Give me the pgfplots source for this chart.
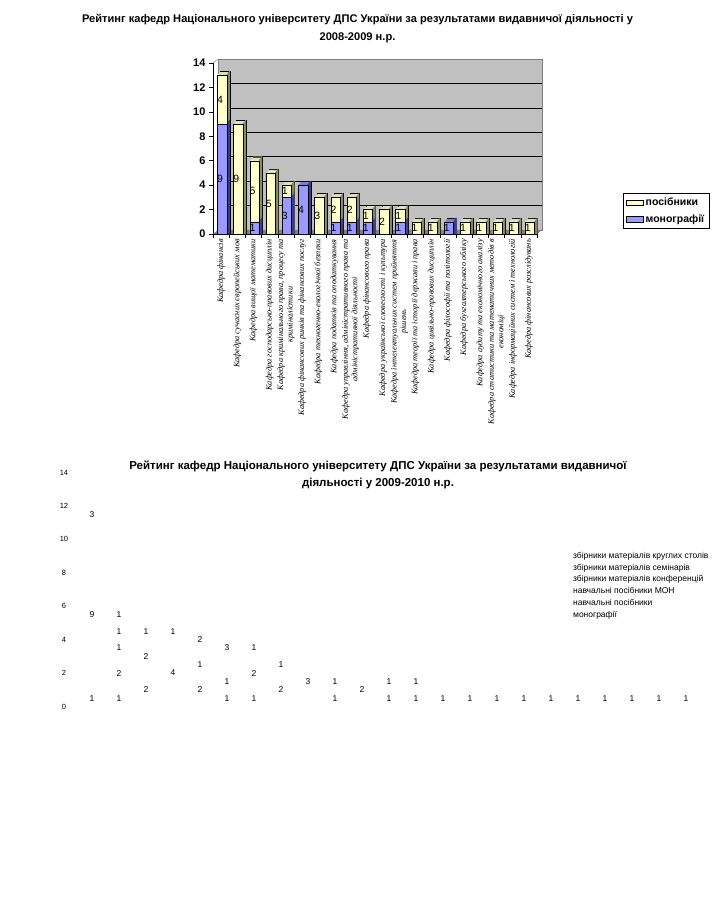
\documentclass[border=0pt]{standalone}
\usepackage{pgfplots}
\pgfplotsset{compat=1.18}
\usepackage{pgfplotstable}
\usepackage{fontspec}
\setmainfont{Liberation Sans}
\newfontfamily\serifit{Liberation Serif}
\definecolor{wallc}{HTML}{C0C0C0}
\definecolor{floorc}{HTML}{808080}
\definecolor{posf}{HTML}{FFFFCC}
\definecolor{post}{HTML}{E0E0BA}
\definecolor{poss}{HTML}{858569}
\definecolor{monf}{HTML}{9999FF}
\definecolor{mont}{HTML}{7C7CD6}
\definecolor{mons}{HTML}{3C3C8C}

\pgfplotstableread{
cat mono pos
1 9 4
2 0 9
3 1 5
4 0 5
5 3 1
6 4 0
7 0 3
8 1 2
9 1 2
10 1 1
11 0 2
12 1 1
13 0 1
14 0 1
15 1 0
16 0 1
17 0 1
18 0 1
19 0 1
20 0 1
}\topdata

\pgfplotstableread{
cat a b c d e f
1 1 9 3 0 0 0
2 1 2 1 1 1 0
3 2 2 1 0 0 0
4 4 1 0 0 0 0
5 2 1 2 0 0 0
6 1 1 3 0 0 0
7 1 2 1 0 0 0
8 2 1 0 0 0 0
9 3 0 0 0 0 0
10 1 1 0 0 0 0
11 2 0 0 0 0 0
12 1 1 0 0 0 0
13 1 1 0 0 0 0
14 1 0 0 0 0 0
15 1 0 0 0 0 0
16 1 0 0 0 0 0
17 1 0 0 0 0 0
18 1 0 0 0 0 0
19 1 0 0 0 0 0
20 1 0 0 0 0 0
21 1 0 0 0 0 0
22 1 0 0 0 0 0
23 1 0 0 0 0 0
}\botdata

\pgfplotsset{
  nzlabel/.style={nodes near coords={\pgfmathfloatifflags{\pgfplotspointmeta}{0}{}{\pgfmathprintnumber{\pgfplotspointmeta}}}},
  % top face of a column: full-width copy pushed back by t*(3pt, 4pt)
  tops/.style 2 args={forget plot, fill=#1, draw=none, bar width=9.4pt, bar shift=#2},
  % right side face: narrow copy at the column's right edge
  sides/.style 2 args={forget plot, fill=#1, draw=none, bar width=1pt, bar shift=#2},
}

\begin{document}
\begin{tikzpicture}
\useasboundingbox (0,0) rectangle (727pt,906pt);

% ---------- top chart title
\node[font=\bfseries\fontsize{11.1}{18}\selectfont, align=center] at (357.5pt,877pt)
  {Рейтинг кафедр Національного університету ДПС України за результатами видавничої діяльності у\\2008-2009 н.р.};

\begin{axis}[
  at={(213pt,672pt)}, anchor=south west,
  scale only axis, width=324pt, height=171pt,
  xmin=0.5, xmax=20.5, ymin=0, ymax=14,
  ytick={0,2,...,14},
  xtick={1,...,20},
  xticklabels={
    Кафедра фінансів,
    Кафедра сучасних європейських мов,
    Кафедра вищої математики,
    Кафедра господарсько-правових дисциплін,
    {Кафедра кримінального права, процесу та\\криміналістики},
    Кафедра фінансових ринків та фінансових послуг,
    Кафедра техногенно-екологічної безпеки,
    Кафедра податків та оподаткування,
    {Кафедра управління, адміністративного права та\\адміністративної діяльності},
    Кафедра фінансового права,
    Кафедра української словесності і культури,
    {Кафедра інтелектуальних систем прийняття\\рішень},
    Кафедра теорії та історії держави і права,
    Кафедра цивільно-правових дисциплін,
    Кафедра філософії та політології,
    Кафедра бухгалтерського обліку,
    Кафедра аудиту та економічного аналізу,
    {Кафедра статистики та математичних методів в\\економіці},
    Кафедра інформаційних систем і технологій,
    Кафедра фінансових розслідувань},
  minor xtick={0.5,1.5,...,20.5},
  major tick length=4pt, minor tick length=4pt,
  tick align=outside,
  major x tick style={draw=none},
  tick style={black, line width=0.6pt},
  x tick label style={font=\serifit\itshape\fontsize{8.3}{9.5}\selectfont, rotate=90, anchor=east, align=center, inner sep=1pt},
  y tick label style={font=\bfseries\fontsize{11}{12}\selectfont},
  /pgf/number format/assume math mode=true,
  axis x line*=bottom, axis y line*=left,
  axis line style={line width=0.6pt},
  clip=false,
  ybar, bar width=9.4pt,
  legend style={at={(1.2645,0.24)}, anchor=north west, draw=black, line width=0.6pt,
    font=\bfseries\fontsize{10.5}{12}\selectfont, row sep=3pt, inner sep=3pt},
  legend cell align=left,
]
\fill[wallc, draw=floorc] ([shift={(5pt,4pt)}]rel axis cs:0,0) rectangle ([shift={(5pt,4pt)}]rel axis cs:1,1);
\draw[black, line width=0.7pt] ([shift={(5pt,4pt)}]axis cs:0.5,2) -- ([shift={(5pt,4pt)}]axis cs:20.5,2);
\draw[black, line width=0.7pt] ([shift={(5pt,4pt)}]axis cs:0.5,4) -- ([shift={(5pt,4pt)}]axis cs:20.5,4);
\draw[black, line width=0.7pt] ([shift={(5pt,4pt)}]axis cs:0.5,6) -- ([shift={(5pt,4pt)}]axis cs:20.5,6);
\draw[black, line width=0.7pt] ([shift={(5pt,4pt)}]axis cs:0.5,8) -- ([shift={(5pt,4pt)}]axis cs:20.5,8);
\draw[black, line width=0.7pt] ([shift={(5pt,4pt)}]axis cs:0.5,10) -- ([shift={(5pt,4pt)}]axis cs:20.5,10);
\draw[black, line width=0.7pt] ([shift={(5pt,4pt)}]axis cs:0.5,12) -- ([shift={(5pt,4pt)}]axis cs:20.5,12);
\fill[floorc] (rel axis cs:0,0) -- (rel axis cs:1,0) -- ([shift={(5pt,4pt)}]rel axis cs:1,0) -- ([shift={(5pt,4pt)}]rel axis cs:0,0) -- cycle;
\draw[floorc] (rel axis cs:0,1) -- ([shift={(5pt,4pt)}]rel axis cs:0,1);

% top faces of the columns
\addplot[tops={post}{4pt}, draw=black, line width=0.3pt] table[x=cat, y expr=\thisrow{mono}+\thisrow{pos}+0.328]{\topdata};
\addplot[tops={post}{3.25pt}] table[x=cat, y expr=\thisrow{mono}+\thisrow{pos}+0.246]{\topdata};
\addplot[tops={post}{2.5pt}]  table[x=cat, y expr=\thisrow{mono}+\thisrow{pos}+0.164]{\topdata};
\addplot[tops={post}{1.75pt}] table[x=cat, y expr=\thisrow{mono}+\thisrow{pos}+0.082]{\topdata};
% top faces of columns made of monographs only
\addplot[tops={mont}{4pt}, draw=black, line width=0.3pt, restrict y to domain=0:20] table[x=cat, y expr={\thisrow{pos}==0 ? \thisrow{mono}+0.328 : -1}]{\topdata};
\addplot[tops={mont}{3.25pt}, restrict y to domain=0:20] table[x=cat, y expr={\thisrow{pos}==0 ? \thisrow{mono}+0.246 : -1}]{\topdata};
\addplot[tops={mont}{2.5pt},  restrict y to domain=0:20] table[x=cat, y expr={\thisrow{pos}==0 ? \thisrow{mono}+0.164 : -1}]{\topdata};
\addplot[tops={mont}{1.75pt}, restrict y to domain=0:20] table[x=cat, y expr={\thisrow{pos}==0 ? \thisrow{mono}+0.082 : -1}]{\topdata};
% right side faces, posibnyky part
\addplot[sides={poss}{8.2pt}]  table[x=cat, y expr=\thisrow{mono}+\thisrow{pos}+0.328]{\topdata};
\addplot[sides={poss}{7.45pt}] table[x=cat, y expr=\thisrow{mono}+\thisrow{pos}+0.246]{\topdata};
\addplot[sides={poss}{6.7pt}]  table[x=cat, y expr=\thisrow{mono}+\thisrow{pos}+0.164]{\topdata};
\addplot[sides={poss}{5.95pt}] table[x=cat, y expr=\thisrow{mono}+\thisrow{pos}+0.082]{\topdata};
% right side faces, monograph part
\addplot[sides={mons}{8.2pt},  restrict y to domain=0:20] table[x=cat, y expr={\thisrow{mono}==0 ? -1 : \thisrow{mono}+0.328}]{\topdata};
\addplot[sides={mons}{7.45pt}, restrict y to domain=0:20] table[x=cat, y expr={\thisrow{mono}==0 ? -1 : \thisrow{mono}+0.246}]{\topdata};
\addplot[sides={mons}{6.7pt},  restrict y to domain=0:20] table[x=cat, y expr={\thisrow{mono}==0 ? -1 : \thisrow{mono}+0.164}]{\topdata};
\addplot[sides={mons}{5.95pt}, restrict y to domain=0:20] table[x=cat, y expr={\thisrow{mono}==0 ? -1 : \thisrow{mono}+0.082}]{\topdata};
% front faces
\addplot[forget plot, fill=posf, draw=black, line width=0.4pt, bar shift=1pt] table[x=cat, y expr=\thisrow{mono}+\thisrow{pos}]{\topdata};
\addplot[forget plot, fill=monf, draw=black, line width=0.4pt, bar shift=1pt, restrict y to domain=0.5:20] table[x=cat, y=mono]{\topdata};
% value labels
\addplot[forget plot, draw=none, fill=none, bar shift=-1pt, point meta=\thisrow{mono}, nzlabel,
  every node near coord/.append style={anchor=center, font=\fontsize{10.5}{11}\selectfont}]
  table[x=cat, y expr=\thisrow{mono}/2]{\topdata};
\addplot[forget plot, draw=none, fill=none, bar shift=-1pt, point meta=\thisrow{pos}, nzlabel,
  every node near coord/.append style={anchor=center, font=\fontsize{10.5}{11}\selectfont}]
  table[x=cat, y expr=\thisrow{mono}+\thisrow{pos}/2]{\topdata};

\addlegendimage{area legend, fill=posf, draw=black}
\addlegendentry{посібники}
\addlegendimage{area legend, fill=monf, draw=black}
\addlegendentry{монографії}
\end{axis}

% ---------- bottom chart title
\node[font=\bfseries\fontsize{11.5}{17}\selectfont, align=center] at (378pt,431.5pt)
  {Рейтинг кафедр Національного університету ДПС України за результатами видавничої\\діяльності у 2009-2010 н.р.};

\begin{axis}[
  at={(78.5pt,199.5pt)}, anchor=south west,
  scale only axis, width=621pt, height=234pt,
  xmin=0.5, xmax=23.5, ymin=0, ymax=14,
  ytick={0,2,...,14}, xtick=\empty,
  axis line style={draw=none}, tick style={draw=none}, major tick length=0pt,
  y tick label style={font=\fontsize{7.5}{8}\selectfont, anchor=center, xshift=-14.5pt},
  /pgf/number format/assume math mode=true,
  ybar, bar width=10pt, bar shift=0pt,
  clip=false,
  seg/.style={forget plot, draw=none, fill=none, nzlabel,
    point meta=\thisrow{#1},
    every node near coord/.append style={anchor=center, font=\fontsize{8.5}{9}\selectfont}},
  legend style={at={(0.793,0.669)}, anchor=north west, draw=none, fill=none,
    font=\fontsize{8.5}{10}\selectfont, row sep=0pt, inner sep=0pt},
  legend cell align=left,
]
% invisible stacked segments (the bars are not drawn in the original), value at each segment's middle
\addplot[seg=a] table[x=cat, y expr=\thisrow{a}/2]{\botdata};
\addplot[seg=b] table[x=cat, y expr=\thisrow{a}+\thisrow{b}/2]{\botdata};
\addplot[seg=c] table[x=cat, y expr=\thisrow{a}+\thisrow{b}+\thisrow{c}/2]{\botdata};
\addplot[seg=d] table[x=cat, y expr=\thisrow{a}+\thisrow{b}+\thisrow{c}+\thisrow{d}/2]{\botdata};
\addplot[seg=e] table[x=cat, y expr=\thisrow{a}+\thisrow{b}+\thisrow{c}+\thisrow{d}+\thisrow{e}/2]{\botdata};
\addplot[seg=f] table[x=cat, y expr=\thisrow{a}+\thisrow{b}+\thisrow{c}+\thisrow{d}+\thisrow{e}+\thisrow{f}/2]{\botdata};
\addlegendimage{empty legend}\addlegendentry{збірники матеріалів круглих столів}
\addlegendimage{empty legend}\addlegendentry{збірники матеріалів семінарів}
\addlegendimage{empty legend}\addlegendentry{збірники матеріалів конференцій}
\addlegendimage{empty legend}\addlegendentry{навчальні посібники МОН}
\addlegendimage{empty legend}\addlegendentry{навчальні посібники}
\addlegendimage{empty legend}\addlegendentry{монографії}
\end{axis}
\end{tikzpicture}
\end{document}
